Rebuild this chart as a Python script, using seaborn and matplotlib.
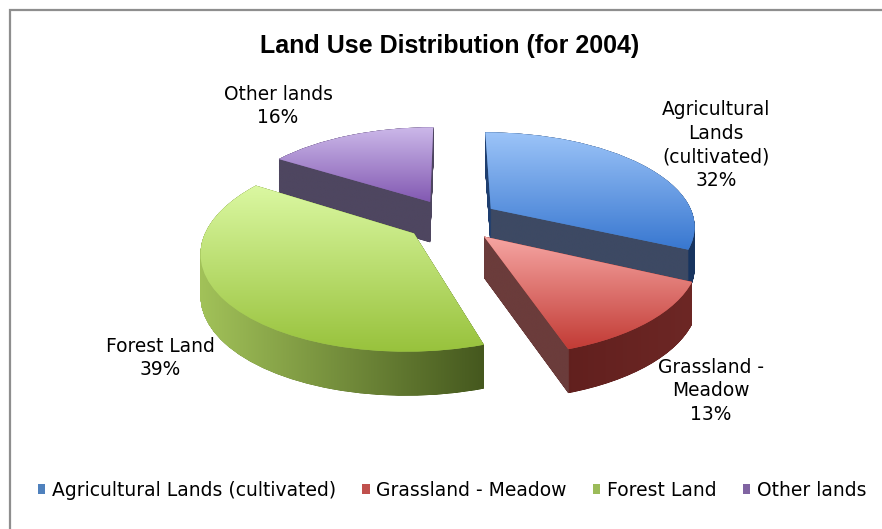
import numpy as np
import matplotlib
matplotlib.use("Agg")
import matplotlib.pyplot as plt
import matplotlib.colors as mcolors
from matplotlib.patches import PathPatch, Patch, Rectangle
from matplotlib.path import Path
from matplotlib.transforms import Transform
import seaborn as sns

# ---- data ---------------------------------------------------------------
categories = ["Agricultural Lands (cultivated)", "Grassland - Meadow",
              "Forest Land", "Other lands"]
label_names = ["Agricultural\nLands\n(cultivated)", "Grassland -\nMeadow",
               "Forest Land", "Other lands"]
shares = [32, 13, 39, 16]

# ---- style ----------------------------------------------------------------
base_colors = ["#4F81BD", "#C0504D", "#9BBB59", "#8064A2"]
top_light = ["#9cc4f8", "#f6a6a3", "#dbf8a2", "#ccb8e9"]
top_dark = ["#3877d0", "#c23b35", "#98c23c", "#8259b2"]
cut_colors = ["#3d4963", "#6b3c3b", "#5b7030", "#4e4660"]
outer_left = ["#1f3f70", "#5a1b19", "#a2c259", "#4e4660"]
outer_right = ["#17345f", "#6d2725", "#45581e", "#4e4660"]
label_pos = [(716, 145), (711, 391), (160, 358), (278, 106)]  # pixel centres

W, H = 882, 529
CX, CY = 452, 220          # pie centre on screen (pixels, y down)
RX, RY = 204, 93           # horizontal / foreshortened vertical radius
PERSP = 0.17               # perspective strength (back smaller than front)
PERSP_DEPTH = 0.06         # milder perspective on the slab thickness
DEPTH = 41                 # slab thickness in pixels
EXPLODE = 0.23

sns.set_theme(style="white")
plt.rcParams["font.family"] = ["DejaVu Sans"]
plt.rcParams["text.color"] = "black"


class TiltedPlane(Transform):
    """Project the flat pie plane onto a tilted disc seen in perspective."""
    input_dims = output_dims = 2
    is_separable = False

    def __init__(self, level=0.0):
        super().__init__()
        self.level = level

    def transform_non_affine(self, values):
        v = np.asarray(values, dtype=float)
        single = v.ndim == 1
        v = v.reshape(-1, 2)
        X, Y = v[:, 0], v[:, 1]
        s = 1.0 / (1.0 + PERSP * Y)
        sd = 1.0 / (1.0 + PERSP_DEPTH * Y)
        x = CX + RX * X * s
        y_down = CY - RY * Y * s + DEPTH * self.level * sd
        out = np.column_stack([x, H - y_down])
        return out[0] if single else out


def lerp_colors(c0, c1, t):
    a = np.array(mcolors.to_rgb(c0))
    b = np.array(mcolors.to_rgb(c1))
    t = np.clip(np.asarray(t), 0, 1)[..., None]
    return a * (1 - t) + b * t


fig = plt.figure(figsize=(W / 100, H / 100), dpi=100)
ax = fig.add_axes([0, 0, 1, 1])

wedges, _ = ax.pie(shares, explode=[EXPLODE] * len(shares), startangle=90,
                   counterclock=False, radius=1.0,
                   wedgeprops=dict(linewidth=0))

top_plane = TiltedPlane(0.0)
order = np.argsort([-w.center[1] for w in wedges])   # back slices first

for rank, i in enumerate(order):
    w = wedges[i]
    zb = 10 * rank
    path = w.get_path()

    # side walls: the slice swept down through the slab thickness
    layers = [TiltedPlane(z).transform_path(path) for z in np.linspace(1, 0, 90)]
    wall = Path.make_compound_path(*layers)
    wall_patch = PathPatch(wall, transform=ax.transData, facecolor=cut_colors[i],
                           edgecolor="none", zorder=zb + 1)
    ax.add_patch(wall_patch)

    ext = wall.get_extents()
    xs = np.linspace(ext.x0, ext.x1, 500)
    cols = lerp_colors(outer_left[i], outer_right[i], (xs - ext.x0) / (ext.x1 - ext.x0))

    cx_scr = top_plane.transform(np.array(w.center))[0]

    def rim_x(t):
        p = (w.center[0] + w.r * np.cos(np.radians(t)),
             w.center[1] + w.r * np.sin(np.radians(t)))
        return top_plane.transform(np.array(p))[0]

    cut_ranges = []
    if np.sin(np.radians(w.theta1 - 90)) < -1e-6:
        cut_ranges.append(sorted([cx_scr, rim_x(w.theta1)]))
    if np.sin(np.radians(w.theta2 + 90)) < -1e-6:
        cut_ranges.append(sorted([cx_scr, rim_x(w.theta2)]))
    for lo, hi in cut_ranges:
        cols[(xs >= lo) & (xs <= hi)] = mcolors.to_rgb(cut_colors[i])

    img = ax.imshow(cols[None, :, :], extent=(ext.x0, ext.x1, ext.y0, ext.y1),
                    origin="lower", aspect="auto", interpolation="bilinear",
                    zorder=zb + 2)
    img.set_clip_path(wall_patch)

    # top face with a soft vertical shading
    w.set_transform(top_plane + ax.transData)
    w.set_facecolor(base_colors[i])
    w.set_edgecolor("none")
    w.set_zorder(zb + 3)
    ext_t = top_plane.transform_path(path).get_extents()
    ts = np.linspace(0, 1, 300)
    grad = lerp_colors(top_dark[i], top_light[i], ts)
    img_t = ax.imshow(grad[:, None, :], extent=(ext_t.x0, ext_t.x1, ext_t.y0, ext_t.y1),
                      origin="lower", aspect="auto", interpolation="bilinear",
                      zorder=zb + 4)
    img_t.set_clip_path(w)

# data labels
for i, (lx, ly) in enumerate(label_pos):
    ax.text(lx, H - ly, f"{label_names[i]}\n{shares[i]}%", ha="center", va="center",
            fontsize=13.4, linespacing=1.3, color="black", zorder=100)

ax.text(450, H - 53, "Land Use Distribution (for 2004)", ha="center", va="baseline",
        fontsize=18, fontweight="bold", family=["Liberation Sans", "DejaVu Sans"],
        color="black", zorder=100)

handles = [Patch(facecolor=c, edgecolor="none") for c in base_colors]
fig.legend(handles, categories, loc="center", bbox_to_anchor=(452 / W, 1 - 490 / H),
           ncol=4, frameon=False, fontsize=13.5, handlelength=0.4, handleheight=0.4,
           handletextpad=0.35, columnspacing=1.4, borderaxespad=0, labelcolor="black")

ax.add_patch(Rectangle((9.5, -20), W + 40, H - 9.5 + 20, fill=False,
                       edgecolor="#8e8e8e", linewidth=1.6, clip_on=False, zorder=200))

ax.set_xlim(0, W)
ax.set_ylim(0, H)
ax.set_aspect("auto")
ax.axis("off")

fig.savefig("out.png", dpi=100)
